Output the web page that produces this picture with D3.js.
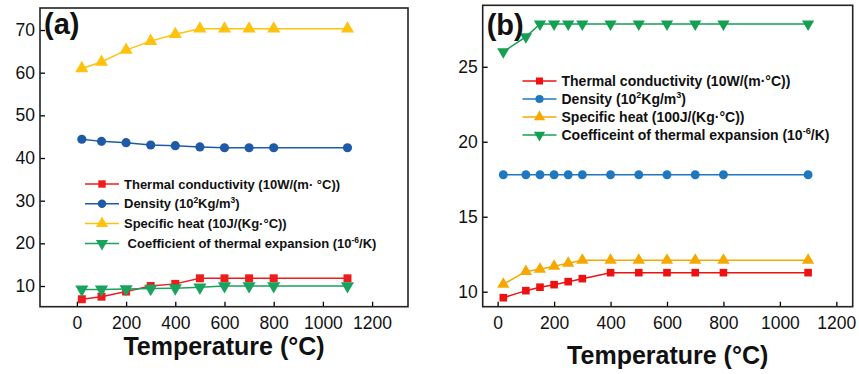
<!DOCTYPE html>
<html>
<head>
<meta charset="utf-8">
<script src="https://cdn.jsdelivr.net/npm/d3@7"></script>
<style>
	body { margin: 0; background: #fff; }
	text { font-family: "Liberation Sans", Arial, sans-serif; }
	.legend text { white-space: pre; }
</style>
</head>
<body>
<svg id="chart" width="859" height="374"></svg>
<script>
// panel (a)
const tempA = [20, 100, 200, 300, 400, 500, 600, 700, 800, 1100];
const condA = [6.9, 7.5, 8.7, 10.0, 10.5, 11.8, 11.8, 11.8, 11.8, 11.8];
const densA = [44.4, 43.9, 43.6, 43.05, 42.9, 42.6, 42.4, 42.4, 42.4, 42.4];
const heatA = [61.0, 62.5, 65.3, 67.4, 69.0, 70.3, 70.3, 70.3, 70.3, 70.3];
const cteA = [9.2, 9.2, 9.3, 9.4, 9.5, 9.7, 10.0, 10.0, 10.0, 10.0];
const yTicksA = [10, 20, 30, 40, 50, 60, 70];
const legendA = [
	['Thermal conductivity (10W/(m· °C))'],
	['Density (10', '2', 'Kg/m', '3', ')'],
	['Specific heat (10J/(Kg·°C))'],
	[' Coefficient of thermal expansion (10', '-6', '/K)']
];

// panel (b)
const tempB = [20, 100, 150, 200, 250, 300, 400, 500, 600, 700, 800, 1100];
const condB = [9.6, 10.07, 10.3, 10.47, 10.67, 10.87, 11.27, 11.27, 11.27, 11.27, 11.27, 11.27];
const densB = [17.8, 17.8, 17.8, 17.8, 17.8, 17.8, 17.8, 17.8, 17.8, 17.8, 17.8, 17.8];
const heatB = [10.5, 11.35, 11.5, 11.7, 11.9, 12.1, 12.1, 12.1, 12.1, 12.1, 12.1, 12.1];
const cteB = [26.0, 27.0, 27.85, 27.85, 27.85, 27.85, 27.85, 27.85, 27.85, 27.85, 27.85, 27.85];
const yTicksB = [10, 15, 20, 25];
const legendB = [
	['Thermal conductivity (10W/(m·°C))'],
	['Density', ' (10', '2', 'Kg/m', '3', ')'],
	['Specific heat (100J/(Kg·°C))'],
	['Coefficeint of thermal expansion (10', '-6', '/K)']
];

const xTicks = [0, 200, 400, 600, 800, 1000, 1200];

const svg = d3.select('#chart');

function marker (shape, size) {
	const types = {
		square: d3.symbolSquare,
		circle: d3.symbolCircle,
		up: d3.symbolTriangle,
		down: d3.symbolTriangle
	};
	return d3.symbol().type(types[shape]).size(size)();
}

function drawPanel (p) {
	const x = d3.scaleLinear().domain(p.xDomain).range([p.left, p.right]);
	const y = d3.scaleLinear().domain(p.yDomain).range([p.bottom, p.top]);
	const g = svg.append('g');

	// axes, ticks pointing inward
	g.append('g')
		.attr('transform', `translate(0,${p.bottom})`)
		.call(d3.axisBottom(x).tickValues(xTicks).tickFormat(d3.format('d'))
			.tickSizeInner(-5).tickSizeOuter(0).tickPadding(10))
		.call((a) => a.select('.domain').remove())
		.call((a) => a.selectAll('text').attr('font-size', 17.5).attr('fill', '#111'))
		.call((a) => a.selectAll('line').attr('stroke-width', 1.3));

	g.append('g')
		.attr('transform', `translate(${p.left},0)`)
		.call(d3.axisLeft(y).tickValues(p.yTicks).tickFormat(d3.format('d'))
			.tickSizeInner(-5).tickSizeOuter(0).tickPadding(5))
		.call((a) => a.select('.domain').remove())
		.call((a) => a.selectAll('text').attr('font-size', 17.5).attr('fill', '#111'))
		.call((a) => a.selectAll('line').attr('stroke-width', 1.3));

	g.append('rect')
		.attr('x', p.left)
		.attr('y', p.top)
		.attr('width', p.right - p.left)
		.attr('height', p.bottom - p.top)
		.attr('fill', 'none')
		.attr('stroke', '#222')
		.attr('stroke-width', 1.6);

	const line = d3.line()
		.x((d) => x(d[0]))
		.y((d) => y(d[1]));

	p.series.forEach((s) => {
		const pts = p.temps.map((t, i) => [t, s.values[i]]);

		g.append('path')
			.datum(pts)
			.attr('d', line)
			.attr('fill', 'none')
			.attr('stroke', s.color)
			.attr('stroke-width', 1.5);

		g.selectAll(null)
			.data(pts)
			.enter()
			.append('path')
			.attr('d', marker(s.shape, s.size))
			.attr('transform', (d) => `translate(${x(d[0])},${y(d[1])})${s.shape === 'down' ? ' rotate(180)' : ''}`)
			.attr('fill', s.color);
	});

	// legend
	const lg = g.append('g').attr('class', 'legend');
	p.legend.forEach((parts, i) => {
		const s = p.series[i];
		const cy = p.legendY + i * p.legendStep;
		lg.append('line')
			.attr('x1', p.legendX)
			.attr('x2', p.legendX + 34)
			.attr('y1', cy)
			.attr('y2', cy)
			.attr('stroke', s.color)
			.attr('stroke-width', 1.5);
		lg.append('path')
			.attr('d', marker(s.shape, s.size * 0.85))
			.attr('transform', `translate(${p.legendX + 17},${cy})${s.shape === 'down' ? ' rotate(180)' : ''}`)
			.attr('fill', s.color);

		const txt = lg.append('text')
			.attr('x', p.legendX + 39)
			.attr('y', cy + p.legendFont * 0.36)
			.attr('font-size', p.legendFont)
			.attr('font-weight', 'bold')
			.attr('fill', '#111');

		// superscripts are the short pieces after "10" / "m"
		parts.forEach((part, j) => {
			const prev = parts[j - 1] || '';
			const sup = j > 0 && (prev.endsWith('10') || prev.endsWith('m'));
			const ts = txt.append('tspan').text(part);
			if (sup) {
				ts.attr('font-size', p.legendFont * 0.65).attr('dy', -p.legendFont * 0.4);
			} else if (j > 0) {
				const prevSup = (parts[j - 2] || '').endsWith('10') || (parts[j - 2] || '').endsWith('m');
				if (prevSup) ts.attr('dy', p.legendFont * 0.4);
			}
		});
	});

	g.append('text')
		.attr('x', p.left + 4)
		.attr('y', p.top + p.labelDy)
		.attr('font-size', 29)
		.attr('font-weight', 'bold')
		.attr('fill', '#111')
		.text(p.label);

	g.append('text')
		.attr('x', (p.left + p.right) / 2)
		.attr('y', p.titleY)
		.attr('text-anchor', 'middle')
		.attr('font-size', 25)
		.attr('font-weight', 'bold')
		.attr('fill', '#111')
		.text('Temperature (°C)');
}

drawPanel({
	label: '(a)',
	left: 40, right: 408, top: 8, bottom: 306.7,
	xDomain: [-150, 1346],
	yDomain: [5.15, 75.16],
	yTicks: yTicksA,
	temps: tempA,
	series: [
		{ values: condA, color: '#ee1c1c', shape: 'square', size: 64 },
		{ values: densA, color: '#1f5aa6', shape: 'circle', size: 66 },
		{ values: heatA, color: '#ffc20e', shape: 'up', size: 75 },
		{ values: cteA, color: '#1aa35f', shape: 'down', size: 75 }
	],
	legend: legendA,
	legendX: 85, legendY: 184, legendStep: 19.8, legendFont: 13,
	labelDy: 26,
	titleY: 355
});

drawPanel({
	label: '(b)',
	left: 482.7, right: 852.7, top: 5.3, bottom: 306.7,
	xDomain: [-53, 1258],
	yDomain: [9, 29.1],
	yTicks: yTicksB,
	temps: tempB,
	series: [
		{ values: condB, color: '#ee1111', shape: 'square', size: 58 },
		{ values: densB, color: '#1f77c0', shape: 'circle', size: 62 },
		{ values: heatB, color: '#f5a800', shape: 'up', size: 65 },
		{ values: cteB, color: '#14a050', shape: 'down', size: 65 }
	],
	legend: legendB,
	legendX: 522.5, legendY: 81, legendStep: 18, legendFont: 14,
	labelDy: 30,
	titleY: 364
});
</script>
</body>
</html>
